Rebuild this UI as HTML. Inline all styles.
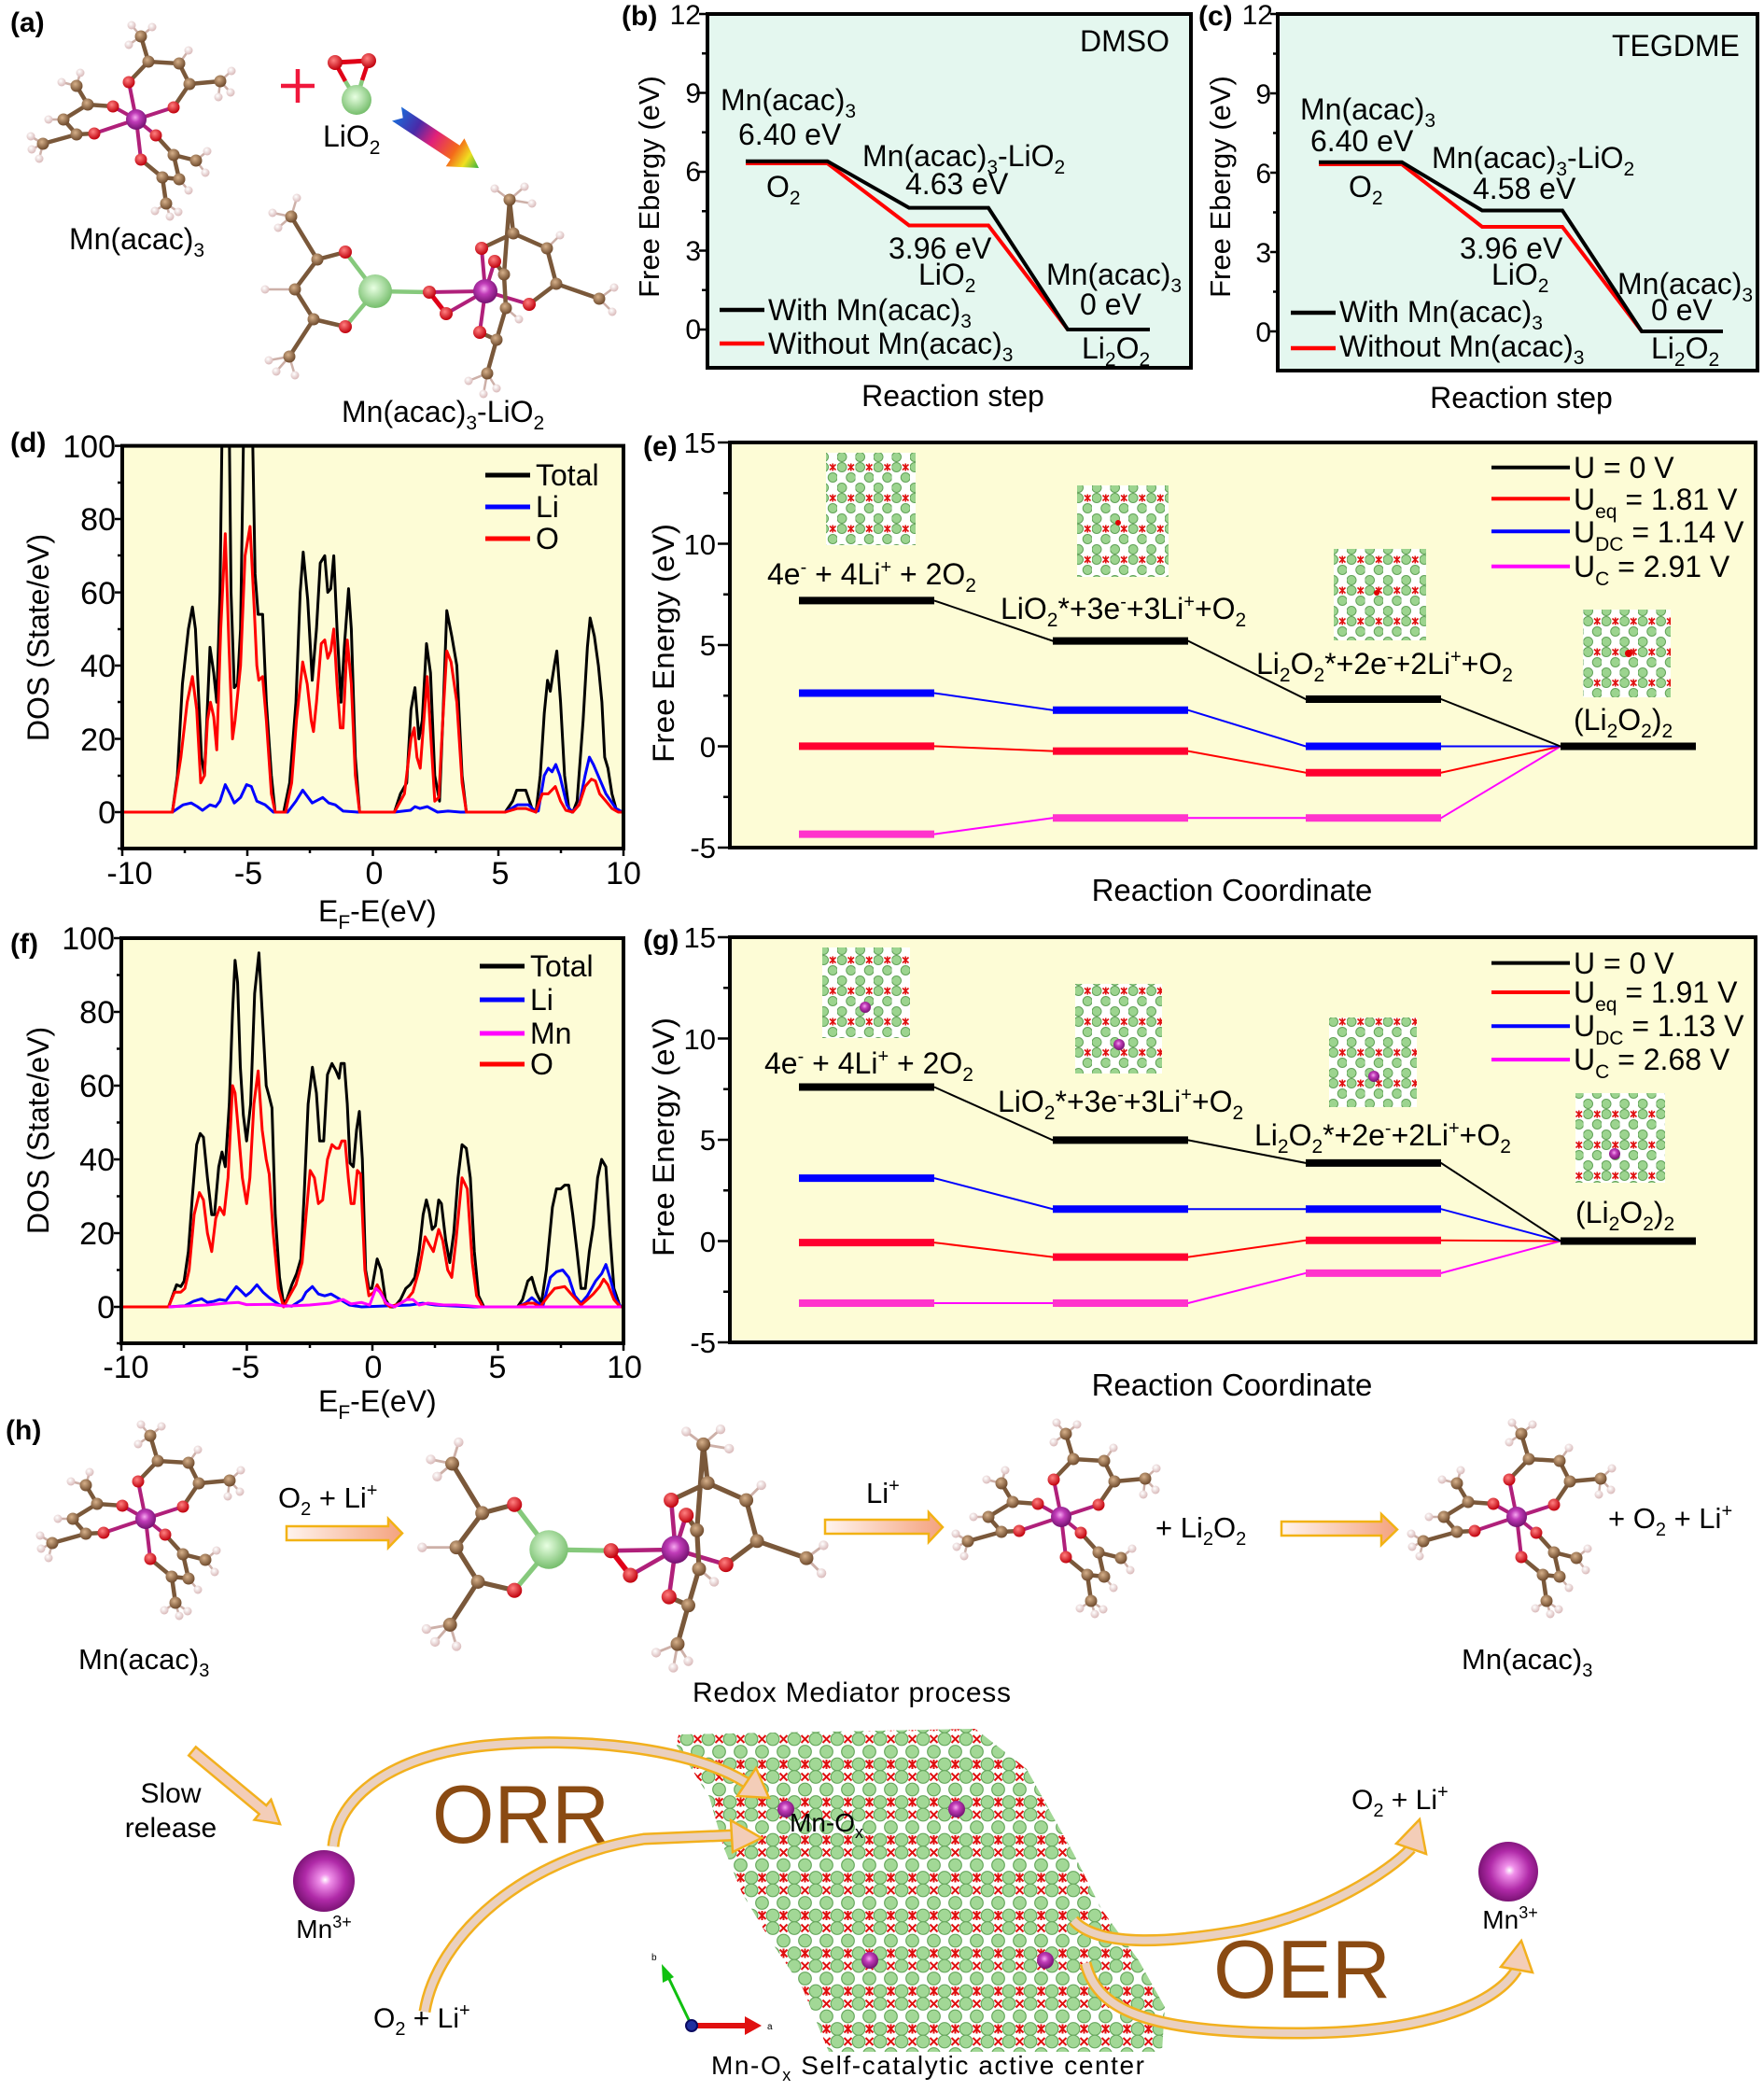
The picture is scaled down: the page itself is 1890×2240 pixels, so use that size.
<!DOCTYPE html>
<html><head><meta charset="utf-8">
<style>
html,body{margin:0;padding:0;background:#fff}
svg{display:block}
text{font-family:"Liberation Sans",Arial,sans-serif;fill:#000}
.bC{stroke:#7a583a;stroke-width:4.5;stroke-linecap:round;fill:none}
.bM{stroke:#b0207a;stroke-width:4;stroke-linecap:round;fill:none}
.bH{stroke:#cdb0a8;stroke-width:2.5;fill:none}
.bL{stroke:#86c97c;stroke-width:4.5;stroke-linecap:round;fill:none}
.bO{stroke:#e00018;stroke-width:5;stroke-linecap:round;fill:none}
.C{fill:url(#gC)} .O{fill:url(#gO)} .H{fill:url(#gH)} .M{fill:url(#gM)} .L{fill:url(#gL)}
.ax{stroke:#000;stroke-width:2.5}
.nv{vector-effect:non-scaling-stroke;fill:none;stroke-width:3;stroke-linejoin:round}
.arw{fill:url(#gArr);stroke:#f2b214;stroke-width:2.5}
.rb1{fill:none;stroke:#f2b01e;stroke-width:13;stroke-linecap:butt}
.rb2{fill:none;stroke:#ead0c0;stroke-width:8;stroke-linecap:butt}
.hd{fill:#f3cdb8;stroke:#f2b01e;stroke-width:2.5}
</style></head><body>
<svg xmlns="http://www.w3.org/2000/svg" width="1890" height="2240" viewBox="0 0 1890 2240">
<defs>
<radialGradient id="gC" cx="40%" cy="35%" r="65%"><stop offset="0" stop-color="#d6b08a"/><stop offset="1" stop-color="#6e4a2c"/></radialGradient>
<radialGradient id="gO" cx="40%" cy="35%" r="65%"><stop offset="0" stop-color="#ff8080"/><stop offset="1" stop-color="#c0000c"/></radialGradient>
<radialGradient id="gH" cx="40%" cy="35%" r="65%"><stop offset="0" stop-color="#ffffff"/><stop offset="1" stop-color="#d9b9b9"/></radialGradient>
<radialGradient id="gM" cx="45%" cy="40%" r="65%"><stop offset="0" stop-color="#f6a8f0"/><stop offset="0.35" stop-color="#c03cb8"/><stop offset="1" stop-color="#6a0c66"/></radialGradient>
<radialGradient id="gL" cx="45%" cy="40%" r="65%"><stop offset="0" stop-color="#e8ffe2"/><stop offset="1" stop-color="#6cb862"/></radialGradient>
<radialGradient id="gBig" cx="52%" cy="48%" r="60%"><stop offset="0" stop-color="#ffffff"/><stop offset="0.15" stop-color="#f090ea"/><stop offset="0.55" stop-color="#b02aa8"/><stop offset="1" stop-color="#64085e"/></radialGradient>
<linearGradient id="gArr" x1="0" y1="0" x2="1" y2="0"><stop offset="0" stop-color="#fff4ee"/><stop offset="1" stop-color="#f4a27e"/></linearGradient>
<linearGradient id="gRain" gradientUnits="userSpaceOnUse" x1="425" y1="122" x2="513" y2="180"><stop offset="0" stop-color="#1a6ad8"/><stop offset="0.25" stop-color="#4a2aa8"/><stop offset="0.45" stop-color="#e0207a"/><stop offset="0.7" stop-color="#f46a1a"/><stop offset="0.85" stop-color="#f0e020"/><stop offset="1" stop-color="#30b040"/></linearGradient>
<pattern id="pSm" width="19.5" height="33" patternUnits="userSpaceOnUse">
<rect width="19.5" height="33" fill="#fff"/>
<circle cx="5" cy="5.5" r="5" fill="#9cd48f" stroke="#62a258" stroke-width="1"/>
<circle cx="14.75" cy="16.5" r="5" fill="#9cd48f" stroke="#62a258" stroke-width="1"/>
<circle cx="5" cy="27.5" r="5" fill="#9cd48f" stroke="#62a258" stroke-width="1"/>
<path d="M11.5,2.5l6.5,6M18,2.5l-6.5,6M14.75,1.5v8" stroke="#e01010" stroke-width="1.6"/>
</pattern>
<pattern id="pBig" width="23" height="40.5" patternUnits="userSpaceOnUse">
<rect width="23" height="40.5" fill="#fff"/>
<g fill="#a2d896" stroke="#68a85e" stroke-width="1.2">
<circle cx="0" cy="0" r="6.8"/><circle cx="23" cy="0" r="6.8"/><circle cx="11.5" cy="13.5" r="6.8"/>
<circle cx="0" cy="27" r="6.8"/><circle cx="23" cy="27" r="6.8"/><circle cx="0" cy="40.5" r="6.8"/><circle cx="23" cy="40.5" r="6.8"/>
</g>
<path d="M7.5,23l8,8M15.5,23l-8,8M11.5,22v10M7.5,-4l8,8M15.5,-4l-8,8M7.5,36.5l8,8M15.5,36.5l-8,8" stroke="#e01010" stroke-width="2"/>
</pattern>
<clipPath id="cd"><rect x="131" y="477.6" width="537" height="431.4"/></clipPath>
<clipPath id="cf"><rect x="130" y="1005" width="538" height="434"/></clipPath>

<g id="mol">
<path class="bM" d="M0,0L-8,-40M0,0L40,-13M0,0L-25,-14M0,0L-45,15M0,0L21,17M0,0L5,43"/>
<path class="bH" d="M5,-89L-5,-101M5,-89L17,-99M5,-89L-8,-80M46,-60L56,-74M90,-41L102,-52M90,-41L101,-29M90,-41L88,-24M-64,-36L-80,-40M-64,-36L-60,-50M-78,0L-94,0M-100,26L-113,18M-100,26L-104,42M-100,26L-112,32M64,44L76,34M64,44L74,57M46,64L56,76M32,90L20,98M32,90L45,99M32,90L36,104"/>
<path class="bC" d="M-8,-40L13,-62L46,-60L57,-38L40,-13M13,-62L5,-89M57,-38L90,-41M-25,-14L-52,-16L-78,0L-64,16L-45,15M-52,-16L-64,-36M-64,16L-100,26M21,17L40,38L46,64L28,62L5,43M40,38L64,44M28,62L32,90"/>
<g class="H">
<circle cx="-5" cy="-101" r="4.5"/><circle cx="17" cy="-99" r="4.5"/><circle cx="-8" cy="-80" r="4.5"/><circle cx="56" cy="-74" r="4.5"/>
<circle cx="102" cy="-52" r="4.5"/><circle cx="101" cy="-29" r="4.5"/><circle cx="88" cy="-24" r="4.5"/><circle cx="-80" cy="-40" r="4.5"/>
<circle cx="-60" cy="-50" r="4.5"/><circle cx="-94" cy="0" r="4.5"/><circle cx="-113" cy="18" r="4.5"/><circle cx="-104" cy="42" r="4.5"/>
<circle cx="-112" cy="32" r="4.5"/><circle cx="76" cy="34" r="4.5"/><circle cx="74" cy="57" r="4.5"/><circle cx="56" cy="76" r="4.5"/>
<circle cx="20" cy="98" r="4.5"/><circle cx="45" cy="99" r="4.5"/><circle cx="36" cy="104" r="4.5"/>
</g>
<g class="C">
<circle cx="13" cy="-62" r="6.5"/><circle cx="46" cy="-60" r="6.5"/><circle cx="57" cy="-38" r="6.5"/><circle cx="5" cy="-89" r="6.5"/><circle cx="90" cy="-41" r="6.5"/>
<circle cx="-52" cy="-16" r="6.5"/><circle cx="-78" cy="0" r="6.5"/><circle cx="-64" cy="16" r="6.5"/><circle cx="-64" cy="-36" r="6.5"/><circle cx="-100" cy="26" r="6.5"/>
<circle cx="40" cy="38" r="6.5"/><circle cx="46" cy="64" r="6.5"/><circle cx="28" cy="62" r="6.5"/><circle cx="64" cy="44" r="6.5"/><circle cx="32" cy="90" r="6.5"/>
</g>
<g class="O">
<circle cx="-8" cy="-40" r="6.5"/><circle cx="40" cy="-13" r="6.5"/><circle cx="-25" cy="-14" r="6.5"/><circle cx="-45" cy="15" r="6.5"/><circle cx="21" cy="17" r="6.5"/><circle cx="5" cy="43" r="6.5"/>
</g>
<circle class="M" cx="0" cy="0" r="11"/>
</g>

<g id="cx">
<path class="bL" d="M0,0L-32,-42M0,0L-32,38M0,0L58,1"/>
<path class="bO" d="M58,1L76,24"/>
<path class="bM" d="M58,1L118,0M76,24L118,0M118,0L114,-46M118,0L128,-32M118,0L165,14M118,0L112,44"/>
<path class="bH" d="M-86,-2L-118,-2M-90,-80L-110,-84M-90,-80L-84,-100M-90,-80L-104,-68M-92,70L-114,74M-92,70L-86,90M-92,70L-106,86M144,-98L128,-110M144,-98L160,-112M144,-98L168,-94M184,-46L198,-60M240,8L256,-4M240,8L254,22M140,18L154,30M120,88L100,96M120,88L130,104M120,88L116,110"/>
<path class="bC" d="M-32,-42L-62,-34L-86,-2L-66,30L-32,38M-62,-34L-90,-80M-66,30L-92,70M114,-46L148,-62L144,-98M148,-62L184,-46L194,-8L165,14M194,-8L240,8M128,-32L138,-18L140,18L130,52L112,44M130,52L120,88M144,-98L138,-18"/>
<g class="H">
<circle cx="-118" cy="-2" r="4.5"/><circle cx="-110" cy="-84" r="4.5"/><circle cx="-84" cy="-100" r="4.5"/><circle cx="-104" cy="-68" r="4.5"/>
<circle cx="-114" cy="74" r="4.5"/><circle cx="-86" cy="90" r="4.5"/><circle cx="-106" cy="86" r="4.5"/><circle cx="128" cy="-110" r="4.5"/>
<circle cx="160" cy="-112" r="4.5"/><circle cx="168" cy="-94" r="4.5"/><circle cx="198" cy="-60" r="4.5"/><circle cx="256" cy="-4" r="4.5"/>
<circle cx="254" cy="22" r="4.5"/><circle cx="154" cy="30" r="4.5"/><circle cx="100" cy="96" r="4.5"/><circle cx="130" cy="104" r="4.5"/><circle cx="116" cy="110" r="4.5"/>
</g>
<circle class="L" cx="0" cy="0" r="18"/>
<circle class="M" cx="118" cy="0" r="13"/>
<g class="C">
<circle cx="-62" cy="-34" r="6.5"/><circle cx="-86" cy="-2" r="6.5"/><circle cx="-66" cy="30" r="6.5"/><circle cx="-90" cy="-80" r="6.5"/><circle cx="-92" cy="70" r="6.5"/>
<circle cx="148" cy="-62" r="6.5"/><circle cx="144" cy="-98" r="6.5"/><circle cx="184" cy="-46" r="6.5"/><circle cx="194" cy="-8" r="6.5"/><circle cx="240" cy="8" r="6.5"/>
<circle cx="138" cy="-18" r="6.5"/><circle cx="140" cy="18" r="6.5"/><circle cx="130" cy="52" r="6.5"/><circle cx="120" cy="88" r="6.5"/>
</g>
<g class="O">
<circle cx="-32" cy="-42" r="7"/><circle cx="-32" cy="38" r="7"/><circle cx="58" cy="1" r="7"/><circle cx="76" cy="24" r="7"/>
<circle cx="114" cy="-46" r="7"/><circle cx="128" cy="-32" r="7"/><circle cx="165" cy="14" r="7"/><circle cx="112" cy="44" r="7"/>
</g>
</g>
</defs>

<rect width="1890" height="2240" fill="#fff"/>

<!-- ============ (a) ============ -->
<text x="11" y="34" font-size="30" font-weight="bold">(a)</text>
<use href="#mol" transform="translate(146,128)"/>
<path d="M301,92H337M319,74V110" stroke="#f0183c" stroke-width="4.5"/>
<path d="M359,67L395,65" class="bO"/>
<path d="M359,67L370,87M395,65L388,86" stroke="#e00018" stroke-width="4.5"/>
<path d="M370,87L382,107M388,86L382,107" stroke="#86c97c" stroke-width="4.5"/>
<circle class="O" cx="359" cy="67" r="8"/><circle class="O" cx="395" cy="65" r="8"/>
<circle class="L" cx="382" cy="107" r="16"/>
<text x="346" y="157" font-size="32">LiO<tspan dy="8" font-size="21">2</tspan></text>
<polygon points="430,114.5 492.5,155.8 497.5,148.3 513,180 477.7,178.3 482.6,170.8 420,129.5 431.7,126.4" fill="url(#gRain)"/>
<text x="74" y="267" font-size="32">Mn(acac)<tspan dy="8" font-size="21">3</tspan></text>
<use href="#cx" transform="translate(402,312)"/>
<text x="366" y="452" font-size="32">Mn(acac)<tspan dy="8" font-size="21">3</tspan><tspan dy="-8">-LiO</tspan><tspan dy="8" font-size="21">2</tspan></text>

<!-- ============ (b) ============ -->
<text x="666" y="27" font-size="30" font-weight="bold">(b)</text>
<rect x="758" y="15" width="518" height="379" fill="#e4f7ef" stroke="#000" stroke-width="4"/>
<path class="ax" d="M749,15H758M749,99.5H758M749,184H758M749,268.5H758M749,353H758M752,57.25H758M752,141.75H758M752,226.25H758M752,310.75H758"/>
<g font-size="30" text-anchor="end">
<text x="751" y="26">12</text><text x="751" y="110">9</text><text x="751" y="194">6</text><text x="751" y="279">3</text><text x="751" y="363">0</text>
</g>
<text transform="translate(706,200) rotate(-90)" font-size="31" text-anchor="middle">Free Ebergy (eV)</text>
<polyline points="799,175 886.5,175 974,241.5 1059,241.5 1144,353 1232,353" fill="none" stroke="#ff0000" stroke-width="4"/>
<polyline points="799,172.7 886.5,172.7 974,222.6 1059,222.6 1144,353 1232,353" fill="none" stroke="#000" stroke-width="4"/>
<g font-size="32">
<text x="1157" y="55">DMSO</text>
<text x="772" y="118">Mn(acac)<tspan dy="8" font-size="21">3</tspan></text>
<text x="791" y="155">6.40 eV</text>
<text x="821" y="211">O<tspan dy="8" font-size="21">2</tspan></text>
<text x="924" y="178">Mn(acac)<tspan dy="8" font-size="21">3</tspan><tspan dy="-8">-LiO</tspan><tspan dy="8" font-size="21">2</tspan></text>
<text x="970" y="208">4.63 eV</text>
<text x="952" y="277">3.96 eV</text>
<text x="984" y="305">LiO<tspan dy="8" font-size="21">2</tspan></text>
<text x="1121" y="305">Mn(acac)<tspan dy="8" font-size="21">3</tspan></text>
<text x="1157" y="337">0 eV</text>
<text x="1159" y="384">Li<tspan dy="8" font-size="21">2</tspan><tspan dy="-8">O</tspan><tspan dy="8" font-size="21">2</tspan></text>
<text x="823" y="343">With Mn(acac)<tspan dy="8" font-size="21">3</tspan></text>
<text x="823" y="379">Without Mn(acac)<tspan dy="8" font-size="21">3</tspan></text>
<text x="1021" y="435" text-anchor="middle">Reaction step</text>
</g>
<path d="M771,332H819" stroke="#000" stroke-width="4.5"/>
<path d="M771,368H819" stroke="#ff0000" stroke-width="4.5"/>

<!-- ============ (c) ============ -->
<text x="1284" y="27" font-size="30" font-weight="bold">(c)</text>
<rect x="1369" y="15" width="514" height="382" fill="#e4f7ef" stroke="#000" stroke-width="4"/>
<path class="ax" d="M1361,15H1369M1361,100H1369M1361,185H1369M1361,270H1369M1361,355H1369M1364,57.5H1369M1364,142.5H1369M1364,227.5H1369M1364,312.5H1369"/>
<g font-size="30" text-anchor="end">
<text x="1364" y="26">12</text><text x="1362" y="111">9</text><text x="1362" y="196">6</text><text x="1362" y="281">3</text><text x="1362" y="366">0</text>
</g>
<text transform="translate(1318,200) rotate(-90)" font-size="31" text-anchor="middle">Free Ebergy (eV)</text>
<polyline points="1413,176 1502,176 1588,243 1674,243 1759,355 1846,355" fill="none" stroke="#ff0000" stroke-width="4"/>
<polyline points="1413,173.7 1502,173.7 1588,225.5 1674,225.5 1759,355 1846,355" fill="none" stroke="#000" stroke-width="4"/>
<g font-size="32">
<text x="1727" y="60">TEGDME</text>
<text x="1393" y="128">Mn(acac)<tspan dy="8" font-size="21">3</tspan></text>
<text x="1404" y="162">6.40 eV</text>
<text x="1445" y="211">O<tspan dy="8" font-size="21">2</tspan></text>
<text x="1534" y="180">Mn(acac)<tspan dy="8" font-size="21">3</tspan><tspan dy="-8">-LiO</tspan><tspan dy="8" font-size="21">2</tspan></text>
<text x="1578" y="213">4.58 eV</text>
<text x="1564" y="277">3.96 eV</text>
<text x="1598" y="305">LiO<tspan dy="8" font-size="21">2</tspan></text>
<text x="1733" y="315">Mn(acac)<tspan dy="8" font-size="21">3</tspan></text>
<text x="1769" y="343">0 eV</text>
<text x="1769" y="384">Li<tspan dy="8" font-size="21">2</tspan><tspan dy="-8">O</tspan><tspan dy="8" font-size="21">2</tspan></text>
<text x="1435" y="345">With Mn(acac)<tspan dy="8" font-size="21">3</tspan></text>
<text x="1435" y="382">Without Mn(acac)<tspan dy="8" font-size="21">3</tspan></text>
<text x="1630" y="437" text-anchor="middle">Reaction step</text>
</g>
<path d="M1383,335H1431" stroke="#000" stroke-width="4.5"/>
<path d="M1383,373H1431" stroke="#ff0000" stroke-width="4.5"/>

<!-- ============ (d) ============ -->
<text x="11" y="484" font-size="30" font-weight="bold">(d)</text>
<rect x="131" y="477.6" width="537" height="431.4" fill="#fdfcd6"/>
<g clip-path="url(#cd)">
<g transform="translate(399.5,870) scale(26.85,-3.924)">
<polyline class="nv" stroke="#000" points="-10,0 -8,0 -7.8,10 -7.6,35 -7.36,50 -7.2,56 -7.08,50 -6.84,15 -6.72,10 -6.5,45 -6.35,38 -6.23,30 -6.1,60 -5.97,130 -5.77,130 -5.66,60 -5.53,34 -5.4,35 -5.28,50 -5.1,130 -4.87,130 -4.7,65 -4.58,54 -4.4,54 -4.25,30 -4.05,10 -3.9,0 -3.56,0 -3.32,8 -3.07,30 -2.9,60 -2.78,71 -2.6,58 -2.42,36 -2.25,50 -2.1,68 -1.92,70 -1.8,60 -1.68,61 -1.56,70 -1.43,50 -1.27,30 -1.14,45 -0.97,61 -0.86,50 -0.7,15 -0.53,0 0.86,0 1.1,5 1.35,8 1.52,28 1.68,34 1.84,20 1.97,25 2.14,46 2.3,38 2.47,10 2.66,3 2.79,25 2.95,55 3.15,48 3.35,40 3.56,10 3.73,0 5.28,0 5.58,3 5.74,6 6.1,6 6.35,1 6.51,0 6.68,10 6.84,27 6.97,36 7.08,33 7.24,40 7.34,44 7.49,30 7.65,10 7.82,1 7.98,0 8.15,3 8.39,25 8.56,45 8.67,53 8.84,48 9,40 9.14,30 9.25,15 9.38,12 9.54,5 9.7,1 9.95,0 10,0"/>
<polyline class="nv" stroke="#0000ff" points="-10,0 -8,0 -7.57,2 -7.25,2.5 -7,1.5 -6.8,0.5 -6.5,2 -6.27,1.5 -6.1,3 -5.89,7.5 -5.7,5 -5.53,2.5 -5.28,4 -5.04,7.5 -4.85,7 -4.63,3 -4.3,2 -3.97,0 -3.4,0 -3.07,3 -2.8,6 -2.42,2.5 -2,4 -1.76,2.5 -1.5,2 -1.19,0.3 -0.6,0 0.86,0 1.5,0.5 1.68,1.5 1.88,1 2.17,1.5 2.58,0 3,0.3 3.5,0 5.28,0 5.77,2 6.2,2 6.45,0.5 6.6,0.3 6.84,10 7,12 7.15,11 7.3,13 7.46,10 7.74,2 7.94,0 8.23,2 8.47,10 8.64,15 8.8,13 9.05,9 9.3,5 9.7,1 9.95,0 10,0"/>
<polyline class="nv" stroke="#ff0000" points="-10,0 -8,0 -7.66,15 -7.41,30 -7.2,37 -7.03,28 -6.87,8 -6.72,10 -6.6,25 -6.48,30 -6.35,26 -6.23,17 -6.07,50 -5.89,76 -5.74,45 -5.6,20 -5.5,25 -5.28,40 -5.1,70 -4.9,78 -4.73,55 -4.63,40 -4.55,36 -4.4,37 -4.25,25 -4.05,5 -3.9,0 -3.48,0 -3.24,8 -3.05,25 -2.8,41 -2.62,35 -2.46,25 -2.37,22 -2.25,30 -2.06,46 -1.92,47 -1.8,42 -1.68,44 -1.56,50 -1.43,35 -1.3,23 -1.19,23 -1.02,47 -0.86,35 -0.7,10 -0.53,0 0.86,0 1.26,5 1.52,20 1.65,23 1.76,15 1.89,12 2,22 2.17,37 2.3,22 2.47,3 2.63,4 2.79,25 2.95,44 3.12,41 3.35,30 3.56,8 3.73,0 5.28,0 5.77,1 6.1,1 6.5,0 6.76,5 7,5 7.28,7 7.49,3 7.7,0.5 7.98,0 8.23,2 8.47,7 8.72,9 8.88,8.5 9.05,5 9.3,3 9.54,1 9.79,0 10,0"/>
</g>
</g>
<rect x="131" y="477.6" width="537" height="431.4" fill="none" stroke="#000" stroke-width="4"/>
<path class="ax" d="M123,477.6H131M123,556H131M123,634.6H131M123,713H131M123,791.5H131M123,870H131M126,517H131M126,595H131M126,674H131M126,752H131M126,831H131M126,909H131
M131,909V917M265,909V917M399.5,909V917M534,909V917M668,909V917M198,909V914M332,909V914M467,909V914M601,909V914"/>
<g font-size="34" text-anchor="end">
<text x="124" y="490">100</text><text x="124" y="568">80</text><text x="124" y="647">60</text><text x="124" y="725">40</text><text x="124" y="804">20</text><text x="124" y="882">0</text>
</g>
<g font-size="34" text-anchor="middle">
<text x="139" y="947">-10</text><text x="266" y="947">-5</text><text x="401" y="947">0</text><text x="536" y="947">5</text><text x="668" y="947">10</text>
</g>
<text transform="translate(52,683) rotate(-90)" font-size="32" text-anchor="middle">DOS (State/eV)</text>
<text x="341" y="987" font-size="32">E<tspan dy="8" font-size="21">F</tspan><tspan dy="-8">-E(eV)</tspan></text>
<path d="M520,509H568" stroke="#000" stroke-width="5"/>
<path d="M520,543H568" stroke="#0000ff" stroke-width="5"/>
<path d="M520,577H568" stroke="#ff0000" stroke-width="5"/>
<g font-size="32"><text x="574" y="520">Total</text><text x="574" y="554">Li</text><text x="574" y="588">O</text></g>

<!-- ============ (f) ============ -->
<text x="11" y="1021" font-size="30" font-weight="bold">(f)</text>
<rect x="130" y="1005" width="538" height="434" fill="#fdfcd6"/>
<g clip-path="url(#cf)">
<g transform="translate(399,1400) scale(26.9,-3.95)">
<polyline class="nv" stroke="#000" points="-10,0 -8.12,0 -7.96,3 -7.8,6 -7.63,5.5 -7.5,7 -7.33,15 -7.17,30 -7,44 -6.86,47 -6.73,46 -6.57,35 -6.4,25 -6.29,25 -6.12,38 -5.99,42 -5.86,38 -5.7,55 -5.57,80 -5.47,94 -5.37,88 -5.26,65 -5.14,52 -5.01,45 -4.85,55 -4.69,85 -4.52,96 -4.39,80 -4.23,60 -4.11,57 -4,54 -3.87,25 -3.7,8 -3.54,1 -3.41,2 -3.21,6 -3.02,9 -2.85,13 -2.72,30 -2.56,55 -2.39,65 -2.23,58 -2.1,45 -1.94,45 -1.79,63 -1.61,66 -1.45,64 -1.33,62 -1.25,66 -1.12,66 -1,55 -0.89,39 -0.76,38 -0.63,48 -0.52,53 -0.4,40 -0.27,10 -0.14,5 -0.02,5 0.19,13 0.35,10 0.52,2 0.71,0 0.88,0 1.12,2 1.33,5 1.5,6 1.69,8 1.86,15 2.02,25 2.15,29 2.26,26 2.38,21 2.51,22 2.64,29 2.75,28 2.92,18 3.08,12 3.24,20 3.41,35 3.57,44 3.74,43 3.9,35 4.06,15 4.23,3 4.44,0 5.78,0 5.98,2 6.19,7 6.35,8 6.52,4 6.73,1 6.93,10 7.17,27 7.33,32 7.5,32 7.66,33 7.82,33 7.98,25 8.15,15 8.31,5 8.48,5 8.64,15 8.8,22 8.97,35 9.13,40 9.3,38 9.46,20 9.62,5 9.87,0 10,0"/>
<polyline class="nv" stroke="#0000ff" points="-10,0 -8.12,0 -7.47,0.3 -7.13,1.5 -6.8,2.2 -6.57,1.2 -6.32,1.5 -6.08,2 -5.83,1.7 -5.58,4 -5.42,5.5 -5.26,4.5 -5.04,3 -4.85,4 -4.6,6 -4.36,4 -4.11,2.5 -3.7,0.5 -3.21,0.2 -2.8,2 -2.64,4 -2.39,5.5 -2.15,3.5 -1.9,3 -1.65,3.5 -1.4,2.5 -1.16,1.5 -0.92,0.5 -0.43,0 1.5,0.5 2,1 2.5,0.5 3,0.3 4,0 5.78,0 6.1,1 6.35,2.5 6.6,1 6.8,0.5 7.09,8 7.33,9.5 7.58,10 7.82,8 8.06,3 8.31,1 8.56,3 8.89,7 9.13,9 9.3,11.5 9.46,8 9.7,2 9.9,0 10,0"/>
<polyline class="nv" stroke="#ff0000" points="-10,0 -8.12,0 -7.88,4 -7.63,4 -7.47,5 -7.3,10 -7.1,25 -6.89,31 -6.73,29 -6.57,20 -6.4,15 -6.24,24 -6.08,27 -5.91,25 -5.75,35 -5.57,60 -5.47,58 -5.34,48 -5.18,35 -5.01,28 -4.88,35 -4.72,55 -4.55,64 -4.39,48 -4.23,40 -4.11,36 -3.95,20 -3.74,5 -3.54,0 -3.3,3 -3.05,6 -2.8,12 -2.64,25 -2.48,37 -2.31,35 -2.15,28 -1.98,29 -1.79,40 -1.61,44 -1.45,43 -1.33,43 -1.22,45 -1.09,45 -0.96,35 -0.85,28 -0.73,28 -0.6,37 -0.47,36 -0.3,10 -0.14,3 0.06,4 0.19,6 0.35,4 0.52,1 0.71,0 1.12,1 1.37,2 1.61,4 1.86,10 2.1,19 2.26,17 2.43,15 2.64,21 2.8,18 3,10 3.16,8 3.33,18 3.57,35 3.78,32 3.98,12 4.15,3 4.4,0 5.78,0 6.19,1 6.43,1 6.68,0 7.01,3 7.26,5 7.66,5.5 7.98,3 8.31,0.5 8.56,2 8.8,3.5 9.05,5.5 9.21,7.5 9.38,6 9.62,2 9.87,0 10,0"/>
<polyline class="nv" stroke="#ff00ff" points="-8.12,0 -6.6,0.5 -5.8,1 -5.34,1.2 -5.01,0.6 -4,0.7 -3.5,0.2 -2.5,0.5 -1.7,1 -1.17,2 -0.85,0.8 -0.43,1.2 -0.11,0.5 0.14,5 0.3,4 0.55,1 0.88,0 1.37,2 1.61,2 1.86,0.5 2.2,1 2.84,0.5 3.33,0.5 3.82,0.3 4.3,0 6,0 8,0 9.9,0"/>
</g>
</g>
<rect x="130" y="1005" width="538" height="434" fill="none" stroke="#000" stroke-width="4"/>
<path class="ax" d="M122,1005H130M122,1084H130M122,1163H130M122,1242H130M122,1321H130M122,1400H130M125,1044.5H130M125,1123.5H130M125,1202.5H130M125,1281.5H130M125,1360.5H130M125,1439H130
M130,1439V1447M264.5,1439V1447M399,1439V1447M533.5,1439V1447M668,1439V1447M197,1439V1444M332,1439V1444M466,1439V1444M601,1439V1444"/>
<g font-size="34" text-anchor="end">
<text x="123" y="1017">100</text><text x="123" y="1096">80</text><text x="123" y="1175">60</text><text x="123" y="1254">40</text><text x="123" y="1333">20</text><text x="123" y="1412">0</text>
</g>
<g font-size="34" text-anchor="middle">
<text x="135" y="1476">-10</text><text x="263" y="1476">-5</text><text x="400" y="1476">0</text><text x="533" y="1476">5</text><text x="669" y="1476">10</text>
</g>
<text transform="translate(52,1211) rotate(-90)" font-size="32" text-anchor="middle">DOS (State/eV)</text>
<text x="341" y="1512" font-size="32">E<tspan dy="8" font-size="21">F</tspan><tspan dy="-8">-E(eV)</tspan></text>
<path d="M514,1035H562" stroke="#000" stroke-width="5"/>
<path d="M514,1071H562" stroke="#0000ff" stroke-width="5"/>
<path d="M514,1107H562" stroke="#ff00ff" stroke-width="5"/>
<path d="M514,1140H562" stroke="#ff0000" stroke-width="5"/>
<g font-size="32"><text x="568" y="1046">Total</text><text x="568" y="1082">Li</text><text x="568" y="1118">Mn</text><text x="568" y="1151">O</text></g>

<!-- ============ (e) ============ -->
<text x="689" y="488" font-size="30" font-weight="bold">(e)</text>
<rect x="782" y="474" width="1099" height="434" fill="#fdfcd6" stroke="#000" stroke-width="4"/>
<path class="ax" d="M769,474H782M769,582.5H782M769,691H782M769,799.5H782M769,908H782M775,528.25H782M775,636.75H782M775,745.25H782M775,853.75H782"/>
<g font-size="31" text-anchor="end">
<text x="767" y="485">15</text><text x="767" y="594">10</text><text x="767" y="702">5</text><text x="767" y="811">0</text><text x="767" y="919">-5</text>
</g>
<text transform="translate(722,689) rotate(-90)" font-size="32" text-anchor="middle" textLength="256" lengthAdjust="spacingAndGlyphs">Free Energy (eV)</text>
<text x="1320" y="965" font-size="33" text-anchor="middle">Reaction Coordinate</text>
<rect x="885" y="485" width="96" height="99" fill="url(#pSm)"/>
<rect x="1154" y="520" width="98" height="98" fill="url(#pSm)"/>
<rect x="1429" y="588" width="99" height="98" fill="url(#pSm)"/>
<rect x="1696" y="653" width="94" height="94" fill="url(#pSm)"/>
<circle cx="1198" cy="560" r="3" fill="#e00000"/><circle cx="1475" cy="635" r="3" fill="#e00000"/><circle cx="1745" cy="700" r="4" fill="#e00000"/>
<g stroke-width="2" fill="none">
<polyline stroke="#ff00ff" points="1001,893.6 1128,876.3 1273,876.3 1399,876.3 1544,876.3 1672,799.5"/>
<polyline stroke="#ff0000" points="1001,799.4 1128,804.6 1273,804.6 1399,827.7 1544,827.7 1672,799.5"/>
<polyline stroke="#0000ff" points="1001,742.5 1128,760.7 1273,760.7 1399,799.5 1544,799.5 1672,799.5"/>
<polyline stroke="#000" points="1001,643.4 1128,686.6 1273,686.6 1399,749 1544,749 1672,799.5"/>
</g>
<g stroke-width="8">
<path stroke="#ff33cc" d="M856,893.6H1001M1128,876.3H1273M1399,876.3H1544"/>
<path stroke="#ff0030" d="M856,799.4H1001M1128,804.6H1273M1399,827.7H1544"/>
<path stroke="#0000ff" d="M856,742.5H1001M1128,760.7H1273M1399,799.5H1544"/>
<path stroke="#000" d="M856,643.4H1001M1128,686.6H1273M1399,749H1544M1672,799.5H1817"/>
</g>
<g font-size="32">
<text x="822" y="626">4e<tspan dy="-12" font-size="20">-</tspan><tspan dy="12"> + 4Li</tspan><tspan dy="-12" font-size="20">+</tspan><tspan dy="12"> + 2O</tspan><tspan dy="8" font-size="21">2</tspan></text>
<text x="1072" y="663">LiO<tspan dy="8" font-size="21">2</tspan><tspan dy="-8">*+3e</tspan><tspan dy="-12" font-size="20">-</tspan><tspan dy="12">+3Li</tspan><tspan dy="-12" font-size="20">+</tspan><tspan dy="12">+O</tspan><tspan dy="8" font-size="21">2</tspan></text>
<text x="1346" y="722">Li<tspan dy="8" font-size="21">2</tspan><tspan dy="-8">O</tspan><tspan dy="8" font-size="21">2</tspan><tspan dy="-8">*+2e</tspan><tspan dy="-12" font-size="20">-</tspan><tspan dy="12">+2Li</tspan><tspan dy="-12" font-size="20">+</tspan><tspan dy="12">+O</tspan><tspan dy="8" font-size="21">2</tspan></text>
<text x="1686" y="782">(Li<tspan dy="8" font-size="21">2</tspan><tspan dy="-8">O</tspan><tspan dy="8" font-size="21">2</tspan><tspan dy="-8">)</tspan><tspan dy="8" font-size="21">2</tspan></text>
</g>
<g stroke-width="4">
<path stroke="#000" d="M1598,500.7H1682"/><path stroke="#ff0000" d="M1598,534.3H1682"/><path stroke="#0000ff" d="M1598,569.3H1682"/><path stroke="#ff00ff" d="M1598,606.7H1682"/>
</g>
<g font-size="32">
<text x="1686" y="512">U = 0 V</text>
<text x="1686" y="546">U<tspan dy="9" font-size="21">eq</tspan><tspan dy="-9"> = 1.81 V</tspan></text>
<text x="1686" y="581">U<tspan dy="9" font-size="21">DC</tspan><tspan dy="-9"> = 1.14 V</tspan></text>
<text x="1686" y="618">U<tspan dy="9" font-size="21">C</tspan><tspan dy="-9"> = 2.91 V</tspan></text>
</g>

<!-- ============ (g) ============ -->
<text x="689" y="1017" font-size="30" font-weight="bold">(g)</text>
<rect x="782" y="1004" width="1099" height="434" fill="#fdfcd6" stroke="#000" stroke-width="4"/>
<path class="ax" d="M769,1004H782M769,1112.5H782M769,1221H782M769,1329.5H782M769,1438H782M775,1058.25H782M775,1166.75H782M775,1275.25H782M775,1383.75H782"/>
<g font-size="31" text-anchor="end">
<text x="767" y="1015">15</text><text x="767" y="1124">10</text><text x="767" y="1232">5</text><text x="767" y="1341">0</text><text x="767" y="1449">-5</text>
</g>
<text transform="translate(722,1218) rotate(-90)" font-size="32" text-anchor="middle" textLength="256" lengthAdjust="spacingAndGlyphs">Free Energy (eV)</text>
<text x="1320" y="1495" font-size="33" text-anchor="middle">Reaction Coordinate</text>
<rect x="881" y="1015" width="94" height="97" fill="url(#pSm)"/>
<rect x="1152" y="1054" width="93" height="96" fill="url(#pSm)"/>
<rect x="1424" y="1090" width="94" height="96" fill="url(#pSm)"/>
<rect x="1688" y="1171" width="96" height="96" fill="url(#pSm)"/>
<g class="M"><circle cx="927" cy="1079" r="6"/><circle cx="1199" cy="1119" r="6"/><circle cx="1472" cy="1153" r="6"/><circle cx="1730" cy="1236" r="6"/></g>
<g stroke-width="2" fill="none">
<polyline stroke="#ff00ff" points="1001,1396 1128,1396 1273,1396 1399,1363.9 1544,1363.9 1672,1329.5"/>
<polyline stroke="#ff0000" points="1001,1331.1 1128,1346.6 1273,1346.6 1399,1328.7 1544,1328.7 1672,1329.5"/>
<polyline stroke="#0000ff" points="1001,1262.1 1128,1295.2 1273,1295.2 1399,1295.2 1544,1295.2 1672,1329.5"/>
<polyline stroke="#000" points="1001,1164.5 1128,1221.4 1273,1221.4 1399,1245.9 1544,1245.9 1672,1329.5"/>
</g>
<g stroke-width="8">
<path stroke="#ff33cc" d="M856,1396H1001M1128,1396H1273M1399,1363.9H1544"/>
<path stroke="#ff0030" d="M856,1331.1H1001M1128,1346.6H1273M1399,1328.7H1544"/>
<path stroke="#0000ff" d="M856,1262.1H1001M1128,1295.2H1273M1399,1295.2H1544"/>
<path stroke="#000" d="M856,1164.5H1001M1128,1221.4H1273M1399,1245.9H1544M1672,1329.5H1817"/>
</g>
<g font-size="32">
<text x="819" y="1150">4e<tspan dy="-12" font-size="20">-</tspan><tspan dy="12"> + 4Li</tspan><tspan dy="-12" font-size="20">+</tspan><tspan dy="12"> + 2O</tspan><tspan dy="8" font-size="21">2</tspan></text>
<text x="1069" y="1191">LiO<tspan dy="8" font-size="21">2</tspan><tspan dy="-8">*+3e</tspan><tspan dy="-12" font-size="20">-</tspan><tspan dy="12">+3Li</tspan><tspan dy="-12" font-size="20">+</tspan><tspan dy="12">+O</tspan><tspan dy="8" font-size="21">2</tspan></text>
<text x="1344" y="1227">Li<tspan dy="8" font-size="21">2</tspan><tspan dy="-8">O</tspan><tspan dy="8" font-size="21">2</tspan><tspan dy="-8">*+2e</tspan><tspan dy="-12" font-size="20">-</tspan><tspan dy="12">+2Li</tspan><tspan dy="-12" font-size="20">+</tspan><tspan dy="12">+O</tspan><tspan dy="8" font-size="21">2</tspan></text>
<text x="1688" y="1310">(Li<tspan dy="8" font-size="21">2</tspan><tspan dy="-8">O</tspan><tspan dy="8" font-size="21">2</tspan><tspan dy="-8">)</tspan><tspan dy="8" font-size="21">2</tspan></text>
</g>
<g stroke-width="4">
<path stroke="#000" d="M1598,1031.6H1682"/><path stroke="#ff0000" d="M1598,1063H1682"/><path stroke="#0000ff" d="M1598,1099.3H1682"/><path stroke="#ff00ff" d="M1598,1135.1H1682"/>
</g>
<g font-size="32">
<text x="1686" y="1043">U = 0 V</text>
<text x="1686" y="1074">U<tspan dy="9" font-size="21">eq</tspan><tspan dy="-9"> = 1.91 V</tspan></text>
<text x="1686" y="1110">U<tspan dy="9" font-size="21">DC</tspan><tspan dy="-9"> = 1.13 V</tspan></text>
<text x="1686" y="1146">U<tspan dy="9" font-size="21">C</tspan><tspan dy="-9"> = 2.68 V</tspan></text>
</g>

<!-- ============ (h) top ============ -->
<text x="6" y="1542" font-size="30" font-weight="bold">(h)</text>
<use href="#mol" transform="translate(156,1627)"/>
<text x="84" y="1788" font-size="31">Mn(acac)<tspan dy="8" font-size="20">3</tspan></text>
<text x="298" y="1615" font-size="31">O<tspan dy="8" font-size="20">2</tspan><tspan dy="-8">  +  Li</tspan><tspan dy="-12" font-size="20">+</tspan></text>
<polygon class="arw" points="307,1635 416,1635 416,1627 431,1642.5 416,1658 416,1650 307,1650"/>
<use href="#cx" transform="translate(588,1660) scale(1.15)"/>
<text x="742" y="1823" font-size="30" textLength="341" lengthAdjust="spacing">Redox Mediator process</text>
<text x="928" y="1610" font-size="31">Li<tspan dy="-12" font-size="20">+</tspan></text>
<polygon class="arw" points="884,1628 995,1628 995,1620 1010,1636 995,1652 995,1643 884,1643"/>
<use href="#mol" transform="translate(1137,1625)"/>
<text x="1238" y="1647" font-size="31">+ Li<tspan dy="8" font-size="20">2</tspan><tspan dy="-8">O</tspan><tspan dy="8" font-size="20">2</tspan></text>
<polygon class="arw" points="1373,1630 1480,1630 1480,1622 1497,1638.5 1480,1655 1480,1645 1373,1645"/>
<use href="#mol" transform="translate(1625,1625)"/>
<text x="1723" y="1637" font-size="31">+ O<tspan dy="8" font-size="20">2</tspan><tspan dy="-8"> + Li</tspan><tspan dy="-12" font-size="20">+</tspan></text>
<text x="1566" y="1788" font-size="31">Mn(acac)<tspan dy="8" font-size="20">3</tspan></text>

<!-- ============ (h) bottom ============ -->
<path d="M727,1858 L1045,1852 L1100,1895 L1125,1940 L1150,1985 L1180,2045 L1220,2100 L1248,2150 L1245,2198 L888,2198 L860,2130 L825,2078 L795,2028 L775,1978 L760,1925 L725,1870 Z" fill="url(#pBig)"/>
<g><circle cx="842" cy="1938" r="9" fill="url(#gM)"/><circle cx="1025" cy="1938" r="9" fill="url(#gM)"/><circle cx="932" cy="2100" r="9" fill="url(#gM)"/><circle cx="1120" cy="2100" r="9" fill="url(#gM)"/></g>
<text x="846" y="1962" font-size="28">Mn-O<tspan dy="7" font-size="18">x</tspan></text>

<text x="183" y="1931" font-size="30" text-anchor="middle">Slow</text>
<text x="183" y="1968" font-size="30" text-anchor="middle">release</text>
<polygon class="hd" points="202.2,1880.6 277.7,1943.3 272.6,1949.5 300,1954 290.4,1927.9 285.3,1934.1 209.8,1871.4"/>

<circle cx="347" cy="2015" r="33" fill="url(#gBig)"/>
<text x="347" y="2076" font-size="28" text-anchor="middle">Mn<tspan dy="-11" font-size="18">3+</tspan></text>
<circle cx="1616" cy="2005" r="32" fill="url(#gBig)"/>
<text x="1618" y="2066" font-size="28" text-anchor="middle">Mn<tspan dy="-11" font-size="18">3+</tspan></text>

<text x="463" y="1974" font-size="88" fill="#8a4a12" style="fill:#8a4a12" textLength="190" lengthAdjust="spacingAndGlyphs">ORR</text>
<text x="1300" y="2140" font-size="88" fill="#8a4a12" style="fill:#8a4a12" textLength="190" lengthAdjust="spacingAndGlyphs">OER</text>

<path class="rb1" d="M357,1978 C362,1925 420,1880 520,1870 C620,1860 740,1872 800,1910"/>
<path class="rb2" d="M357,1978 C362,1925 420,1880 520,1870 C620,1860 740,1872 800,1910"/>
<polygon class="hd" points="824,1926 790,1924 810,1894"/>
<path class="rb1" d="M455,2155 C468,2075 560,1990 690,1970 L785,1966"/>
<path class="rb2" d="M455,2155 C468,2075 560,1990 690,1970 L785,1966"/>
<polygon class="hd" points="816,1969 783,1950 785,1984"/>
<path class="rb1" d="M1150,2057 C1178,2088 1260,2080 1330,2068 C1420,2050 1488,2005 1512,1980"/>
<path class="rb2" d="M1150,2057 C1178,2088 1260,2080 1330,2068 C1420,2050 1488,2005 1512,1980"/>
<polygon class="hd" points="1521,1949 1528,1986 1496,1975"/>
<path class="rb1" d="M1163,2103 C1175,2150 1220,2178 1390,2178 C1520,2178 1600,2150 1625,2110"/>
<path class="rb2" d="M1163,2103 C1175,2150 1220,2178 1390,2178 C1520,2178 1600,2150 1625,2110"/>
<polygon class="hd" points="1630,2079 1642,2113 1608,2107"/>

<text x="400" y="2172" font-size="30">O<tspan dy="8" font-size="20">2</tspan><tspan dy="-8">  +  Li</tspan><tspan dy="-12" font-size="20">+</tspan></text>
<text x="1448" y="1938" font-size="30">O<tspan dy="8" font-size="20">2</tspan><tspan dy="-8">  +  Li</tspan><tspan dy="-12" font-size="20">+</tspan></text>

<path d="M741,2170 L716,2118" stroke="#10c010" stroke-width="3"/>
<polygon points="709,2104 710,2124 722,2118" fill="#10c010"/>
<path d="M741,2170 L800,2170" stroke="#e01010" stroke-width="6"/>
<polygon points="816,2170 798,2160 798,2180" fill="#e01010"/>
<circle cx="741" cy="2170" r="6" fill="#2030a0" stroke="#0a0a60" stroke-width="2"/>
<text x="698" y="2100" font-size="10">b</text>
<text x="822" y="2174" font-size="10">a</text>

<text x="762" y="2222" font-size="28" textLength="464" lengthAdjust="spacing">Mn-O<tspan dy="7" font-size="18">x</tspan><tspan dy="-7">  Self-catalytic  active  center</tspan></text>
</svg>
</body></html>
